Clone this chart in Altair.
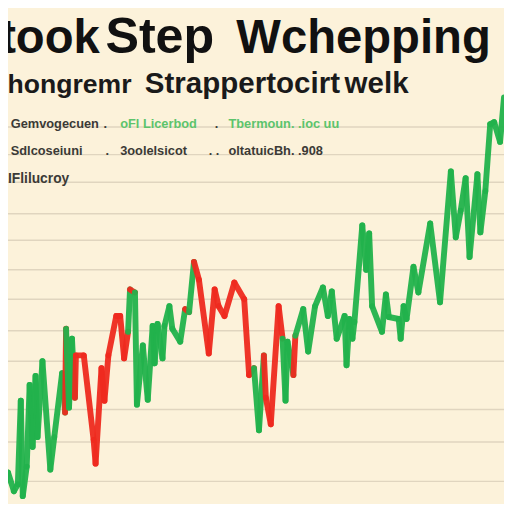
import altair as alt
import pandas as pd

# ---- data ----
day = [0, 4, 7, 9, 10.5, 11.5, 13.5, 15, 16.5, 18, 19, 21.5, 25.5, 27.5, 31.5, 33, 33.5, 35, 36.5, 38,
       38.5, 42.5, 47.5, 48.5, 51.5, 53, 55, 59, 61, 63, 65, 66, 68.5, 69.5, 72.5, 75, 77.5, 78.5, 80, 82.5,
       83.5, 86, 87.5, 91.5, 94, 96, 98.5, 101, 106, 109, 111, 114, 119, 124, 126.5, 129, 131.5, 134, 135, 137.5,
       141.5, 143.5, 145, 146, 149, 150, 154, 156.5, 160, 164, 166.5, 168.5, 171, 175, 176, 177.5, 179, 180, 184, 186,
       187.5, 189, 194, 196, 197.5, 202.5, 203.5, 205, 206.5, 210, 212.5, 218.5, 223.5, 229, 231.5, 234, 236.5, 238.5, 242.5, 244,
       246.5, 249, 251, 254, 256]
price = [102.5, 118, 108.5, 112, 154.5, 106, 121, 162.5, 131, 167,
         136, 174.5, 119.5, 136, 168.5, 148.5, 191, 151, 186, 156,
         177.5, 177.5, 134.5, 122.5, 171, 154.5, 177.5, 197.5, 197.5, 176,
         189.5, 211, 209.5, 152.5, 182.5, 155, 192.5, 173.5, 193.5, 176,
         192.5, 202.5, 191, 184.5, 201, 199.5, 225, 216, 178.5, 211,
         202.5, 197.5, 214.5, 206, 167.5, 171, 139.5, 177.5, 156, 142.5,
         202.5, 186, 154.5, 184.5, 167.5, 187.5, 201, 179.5, 202.5, 212,
         197.5, 210, 186, 197.5, 172.5, 196, 186, 194.5, 243.5, 221,
         239.5, 202.5, 189.5, 208.5, 197, 196, 186, 202.5, 196, 222.5,
         209.5, 244.5, 204.5, 271, 237.5, 251, 267.5, 227.5, 269.5, 240,
         261, 295, 296, 286, 308.5]
trend = (["gain"] * 15 + ["loss"] + ["gain"] * 3 + ["loss"] + ["loss"] * 10 + ["gain"] + ["loss"]
         + ["gain"] * 12 + ["loss"] + ["gain"] + ["loss"] * 9 + ["gain"] * 2 + ["loss"] * 4
         + ["gain"] * 3 + ["loss"] + ["gain"] * 39)
grid_levels = [293.5, 279.5, 265.5, 249.5, 236, 221, 206, 190, 174.5, 150, 133.5, 113.5]

title_words = ["took", "Step", "Wchepping"]
subtitle_words = ["lhongremr", "Strappertocirt", "welk"]
row1 = ["0 Gemvogecuen", ".", "oFl Licerbod", ".", "Tbermoun. .ioc uu"]
row2 = ["c Sdlcoseiuni", ".", "3oolelsicot", ". .", "oltatuicBh. .908"]
row3 = ["IFlilucroy"]

# ---- layout ----
W, H = 504, 496
BG = "#fcf2da"
GREEN = "#22b24c"
RED = "#ee2a1f"
DARK = "#3b3a36"
LGREEN = "#5cc46c"

xs = alt.Scale(domain=[4, 256], nice=False, zero=False)
ys = alt.Scale(domain=[352 - H / 2, 352], nice=False, zero=False)

seg = pd.DataFrame({
    "day": day[:-1], "price": price[:-1],
    "day2": day[1:], "price2": price[1:],
    "trend": trend,
})

grid = alt.Chart(pd.DataFrame({"level": grid_levels})).mark_rule(
    color="#e0d5bf", strokeWidth=1.5
).encode(
    y=alt.Y("level:Q", scale=ys, axis=None),
    x=alt.value(0), x2=alt.value(W),
)

lines = alt.Chart(seg).mark_rule(
    strokeWidth=6, strokeCap="round", clip=True, opacity=0.95
).encode(
    x=alt.X("day:Q", scale=xs, axis=None), x2="day2:Q",
    y=alt.Y("price:Q", scale=ys, axis=None), y2="price2:Q",
    color=alt.Color("trend:N", scale=alt.Scale(domain=["gain", "loss"], range=[GREEN, RED]), legend=None),
)


def txt(s, x, y, size, color, weight="normal", font="Liberation Sans"):
    return alt.Chart(pd.DataFrame({"t": [s]})).mark_text(
        align="left", baseline="alphabetic", fontSize=size, font=font,
        fontWeight=weight, color=color, clip=True,
    ).encode(x=alt.value(x), y=alt.value(y), text="t:N")


layers = [grid, lines]
for w, x, s in zip(title_words, [-8, 99, 232], [48, 51, 48]):
    layers.append(txt(w, x, 42, s, "#111111", "bold"))
for w, x, s in zip(subtitle_words, [-8, 139, 342], [27, 30, 30]):
    layers.append(txt(w, x, 82, s, "#1a1a1a", "bold"))
for w, x, c in zip(row1, [-8, 97, 114, 210, 224], [DARK, DARK, LGREEN, DARK, LGREEN]):
    layers.append(txt(w, x, 118, 13, c, "bold"))
for w, x in zip(row2, [-8, 99, 114, 204, 224]):
    layers.append(txt(w, x, 145, 13, DARK, "bold"))
for w, x in zip(row3, [0]):
    layers.append(txt(w, x, 174, 14, DARK, "bold"))

chart = alt.layer(*layers).properties(
    width=W, height=H, background=BG, padding=0,
    autosize=alt.AutoSizeParams(type="none"),
).configure_view(stroke=None)

chart.save("out.html", embed_options={"renderer": "svg", "actions": False})
